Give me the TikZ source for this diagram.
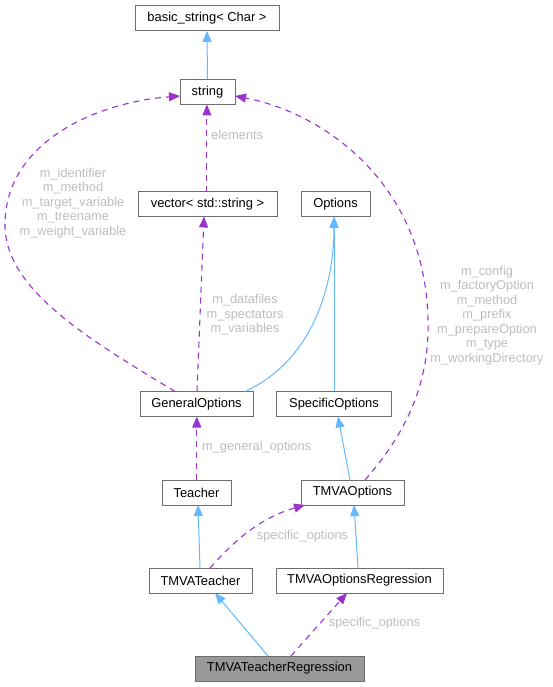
\documentclass[tikz,border=0pt]{standalone}
\usepackage{fontspec}
\setmainfont{Liberation Sans}
\usetikzlibrary{arrows.meta}
\definecolor{inh}{HTML}{63B8FF}
\definecolor{use}{HTML}{9A32CD}
\definecolor{lbl}{HTML}{BDBDBD}
\definecolor{bord}{HTML}{6E6E6E}
\tikzset{
  x=1pt,y=-1pt,
  box/.style={draw=bord,line width=0.9pt,fill=white,minimum height=25pt,inner sep=0pt,font=\fontsize{12.9}{14}\selectfont},
  inhline/.style={draw=inh,line width=1pt,-{Triangle[length=11pt,width=9pt]}},
  useline/.style={draw=use,line width=1.1pt,dash pattern=on 6pt off 5pt,-{Triangle[length=11pt,width=9pt,fill=use]}},
  lab/.style={text=lbl,inner sep=0pt,align=center,font=\fontsize{12.8}{14.5}\selectfont}
}
\begin{document}
\begin{tikzpicture}
\useasboundingbox (0,0) rectangle (552,687);
\node[box,minimum width=144pt] (bs) at (207,18) {basic\_string< Char >};
\node[box,minimum width=55pt] (str) at (207.5,92) {string};
\node[box,minimum width=139pt] (vec) at (207.5,204) {vector< std::string >};
\node[box,minimum width=69pt] (opt) at (335.5,204) {Options};
\node[box,minimum width=113pt] (gen) at (196.5,404) {GeneralOptions};
\node[box,minimum width=115pt] (spec) at (334,404) {SpecificOptions};
\node[box,minimum width=69pt] (teach) at (196.5,492.5) {Teacher};
\node[box,minimum width=103pt] (tmvaopt) at (352.5,492.5) {TMVAOptions};
\node[box,minimum width=103pt] (tmvat) at (200.5,580.5) {TMVATeacher};
\node[box,minimum width=167pt] (tmvaor) at (359.5,580.5) {TMVAOptionsRegression};
\node[box,minimum width=169pt,fill=black!40] (tmvatr) at (279.5,668.5) {TMVATeacherRegression};

% inheritance
\draw[inhline] (str.north) -- (bs.south);
\draw[inhline] (spec.north) -- (spec.north |- opt.south);
\draw[inhline] (245,391.5) .. controls (310,362) and (334,290) .. (334,216.5);
\draw[inhline] (350,480) -- (338,416.5);
\draw[inhline] (200,568) -- (198,505);
\draw[inhline] (358,568) -- (354,505);
\draw[inhline] (268,656) -- (215,593);

% usage
\draw[useline] (206.9,191.5) -- (206.9,104.5);
\draw[useline] (197,391.5) -- (204,216.5);
\draw[useline] (196.8,480) -- (196.8,416.5);
\draw[useline] (175,391.5) .. controls (90,340) and (5,290) .. (5,225) .. controls (5,140) and (100,102) .. (180,96);
\draw[useline] (365,480) .. controls (400,440) and (430,390) .. (428,320) .. controls (425,180) and (320,112) .. (235,96);
\draw[useline] (210,568) .. controls (235,540) and (260,518) .. (305,505);
\draw[useline] (291,656) -- (347,593);

% labels
\node[lab,anchor=west] (l1) at (211,135) {elements};
\node[lab] (l2) at (73,203) {m\_identifier\\m\_method\\m\_target\_variable\\m\_treename\\m\_weight\_variable};
\node[lab] (l3) at (245,315) {m\_datafiles\\m\_spectators\\m\_variables};
\node[lab] (l4) at (487,315.5) {m\_config\\m\_factoryOption\\m\_method\\m\_prefix\\m\_prepareOption\\m\_type\\m\_workingDirectory};
\node[lab,anchor=west] (l5) at (202,447.5) {m\_general\_options};
\node[lab] (l6) at (302.5,536) {specific\_options};
\node[lab] (l7) at (374.5,623) {specific\_options};
\end{tikzpicture}
\end{document}
